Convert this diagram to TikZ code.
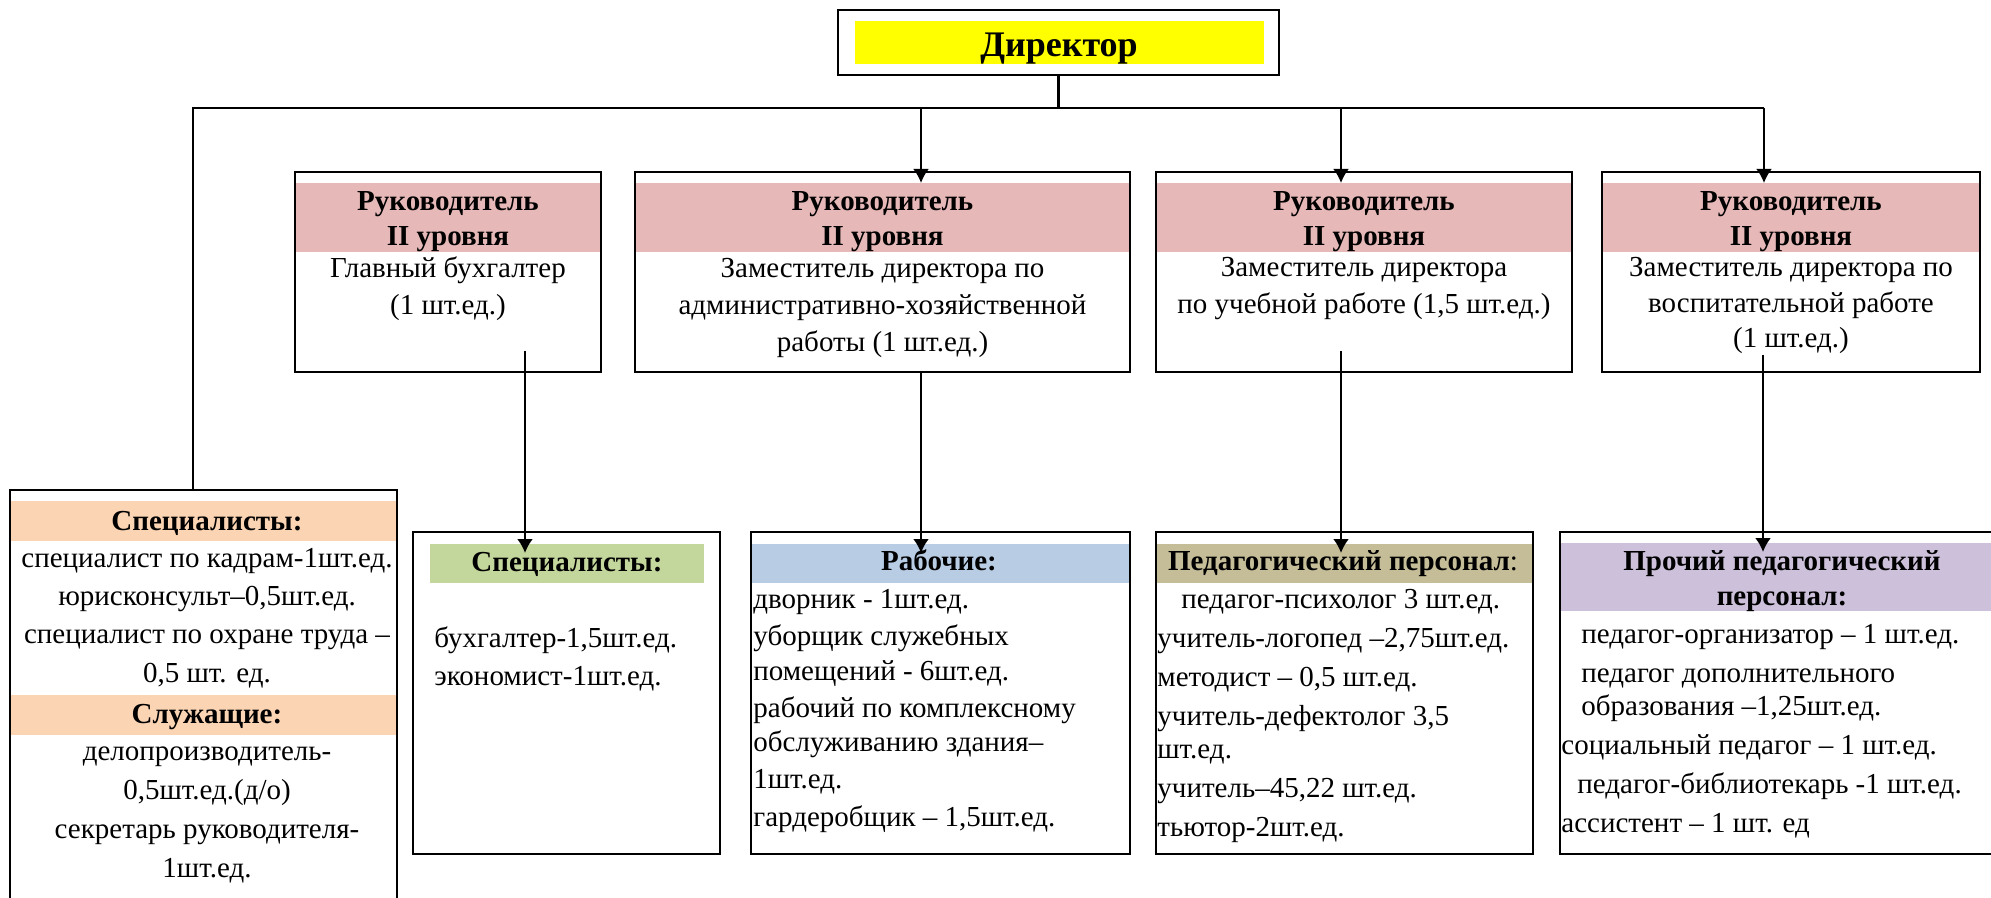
\documentclass[tikz,border=0pt]{standalone}
\usepackage{fontspec}
\setmainfont{Liberation Serif}
\usepackage{tikz}
\usetikzlibrary{arrows.meta}
\definecolor{BossYellow}{HTML}{FFFF00}
\definecolor{HeadPink}{HTML}{E6B8B7}
\definecolor{StaffPeach}{HTML}{FBD4B4}
\definecolor{SpecGreen}{HTML}{C3D69B}
\definecolor{WorkBlue}{HTML}{B8CCE4}
\definecolor{PedKhaki}{HTML}{C4BD97}
\definecolor{OtherLilac}{HTML}{CCC0DA}
\newcommand{\bodysize}[1]{\fontsize{14.5}{#1}\selectfont}

\begin{document}
\begin{tikzpicture}[x=0.5pt, y=-0.5pt,
    postbox/.style={rectangle, draw, line width=0.9pt, inner sep=0pt, outer sep=0pt},
    band/.style={rectangle, inner sep=0pt, outer sep=0pt},
    txt/.style={inner sep=0pt, anchor=base, font=\bodysize{18.5}},
    items/.style={inner sep=0pt, anchor=base west},
    link/.style={line width=1.2pt},
    arr/.style={line width=1.2pt, -{Latex[length=7pt, width=8pt]}},
    dnarr/.style={arr, shorten >=-4.5pt}]
      \useasboundingbox (0, 0) rectangle (1991, 898);

      \node (boss) [postbox] [minimum width=220.5pt, minimum height=32.5pt] at (1058.5, 42.5) {};
      \node (bossfill) [band, fill=BossYellow, minimum width=204.5pt, minimum height=21.5pt] at (1059.5, 42.5) {};
      \node (bossname) [txt, font=\fontsize{18}{22}\selectfont\bfseries] at (1059, 57) {Директор};

      \node (chief1) [postbox, minimum width=153pt, minimum height=100pt] at (448, 272) {};
      \node (pink1) [band, fill=HeadPink, minimum width=152pt, minimum height=34.5pt] at (448, 217.5) {};
      \node (rank1) [txt, font=\bodysize{17.5}\bfseries] at (448, 211) {
        \begin{tabular}[t]{@{}c@{}}
          Руководитель \\
          II уровня
        \end{tabular}
      };
      \node (post1) [txt] at (448, 278) {
        \begin{tabular}[t]{@{}c@{}}
          Главный бухгалтер \\
          (1 шт.ед.)
        \end{tabular}
      };

      \node (chief2) [postbox, minimum width=247.5pt, minimum height=100pt] at (882.5, 272) {};
      \node (pink2) [band, fill=HeadPink, minimum width=246.5pt, minimum height=34.5pt] at (882.5, 217.5) {};
      \node (rank2) [txt, font=\bodysize{17.5}\bfseries] at (882.5, 211) {
        \begin{tabular}[t]{@{}c@{}}
          Руководитель \\
          II уровня
        \end{tabular}
      };
      \node (post2) [txt] at (882.5, 278) {
        \begin{tabular}[t]{@{}c@{}}
          Заместитель директора по \\
          административно-хозяйственной \\
          работы (1 шт.ед.)
        \end{tabular}
      };

      \node (chief3) [postbox, minimum width=208pt, minimum height=100pt] at (1364, 272) {};
      \node (pink3) [band, fill=HeadPink, minimum width=207pt, minimum height=34.5pt] at (1364, 217.5) {};
      \node (rank3) [txt, font=\bodysize{17.5}\bfseries] at (1364, 211) {
        \begin{tabular}[t]{@{}c@{}}
          Руководитель \\
          II уровня
        \end{tabular}
      };
      \node (post3) [txt] at (1364, 277) {
        \begin{tabular}[t]{@{}c@{}}
          Заместитель директора \\
          по учебной работе (1,5 шт.ед.)
        \end{tabular}
      };

      \node (chief4) [postbox, minimum width=189pt, minimum height=100pt] at (1791, 272) {};
      \node (pink4) [band, fill=HeadPink, minimum width=188pt, minimum height=34.5pt] at (1791, 217.5) {};
      \node (rank4) [txt, font=\bodysize{17.5}\bfseries] at (1791, 211) {
        \begin{tabular}[t]{@{}c@{}}
          Руководитель \\
          II уровня
        \end{tabular}
      };
      \node (post4) [txt, font=\bodysize{17.75}] at (1791, 277) {
        \begin{tabular}[t]{@{}c@{}}
          Заместитель директора по \\
          воспитательной работе \\
          (1 шт.ед.)
        \end{tabular}
      };

      \node (staff) [postbox, minimum width=193.5pt, minimum height=215pt] at (203.5, 705) {};
      \node (peach1) [band, fill=StaffPeach, minimum width=192.5pt, minimum height=20pt] at (203.5, 521) {};
      \node (peach2) [band, fill=StaffPeach, minimum width=192.5pt, minimum height=20pt] at (203.5, 715) {};
      \node (stafftitle1) [txt, font=\bodysize{18.5}\bfseries] at (207, 530) {Специалисты:};
      \node (stafflist1) [txt, font=\bodysize{19.2}] at (207, 567) {
        \begin{tabular}[t]{@{}c@{}}
          специалист по кадрам-1шт.ед. \\
          юрисконсульт–0,5шт.ед. \\
          специалист по охране труда – \\
          0,5 шт. ед.
        \end{tabular}
      };
      \node (stafftitle2) [txt, font=\bodysize{18.5}\bfseries] at (207, 723) {Служащие:};
      \node (stafflist2) [txt, font=\bodysize{19.5}] at (207, 760) {
        \begin{tabular}[t]{@{}c@{}}
          делопроизводитель- \\
          0,5шт.ед.(д/о) \\
          секретарь руководителя- \\
          1шт.ед.
        \end{tabular}
      };

      \node (spec) [postbox, minimum width=153.5pt, minimum height=161pt] at (566.5, 693) {};
      \node (green) [band, fill=SpecGreen, minimum width=137pt, minimum height=19.5pt] at (567, 563.5) {};
      \node (spectitle) [txt, font=\bodysize{18.5}\bfseries] at (567, 571) {Специалисты:};
      \node (speclist) [items, font=\bodysize{19}] at (434, 647) {
        \begin{tabular}[t]{@{}l@{}}
          бухгалтер-1,5шт.ед. \\
          экономист-1шт.ед.
        \end{tabular}
      };

      \node (work) [postbox, minimum width=189.5pt, minimum height=161pt] at (940.5, 693) {};
      \node (blue) [band, fill=WorkBlue, minimum width=188.5pt, minimum height=19.5pt] at (940.5, 563.5) {};
      \node (worktitle) [txt, font=\bodysize{18.5}\bfseries] at (939, 570) {Рабочие:};
      \node (worklist) [items, font=\bodysize{18.75}] at (753, 608) {
        \begin{tabular}[t]{@{}l@{}}
          дворник - 1шт.ед. \\
          уборщик служебных \\[-1.5pt]
          помещений - 6шт.ед. \\
          рабочий по комплексному \\[-2pt]
          обслуживанию здания– \\
          1шт.ед. \\
          гардеробщик – 1,5шт.ед.
        \end{tabular}
      };

      \node (ped) [postbox, minimum width=188.5pt, minimum height=161pt] at (1344.5, 693) {};
      \node (khaki) [band, fill=PedKhaki, minimum width=187.5pt, minimum height=19.5pt] at (1344.5, 563.5) {};
      \node (pedtitle) [txt, font=\bodysize{18.5}] at (1343, 570) {\textbf{Педагогический персонал}:};
      \node (pedlist) [items, font=\bodysize{19.5}] at (1157, 608) {
        \begin{tabular}[t]{@{}l@{}}
          \hspace*{12pt}педагог-психолог 3 шт.ед. \\
          учитель-логопед –2,75шт.ед. \\
          методист – 0,5 шт.ед. \\
          учитель-дефектолог 3,5 \\[-3pt]
          шт.ед. \\
          учитель–45,22 шт.ед. \\
          тьютор-2шт.ед.
        \end{tabular}
      };

      \node (other) [postbox, minimum width=222pt, minimum height=161pt] at (1782, 693) {};
      \node (lilac) [band, fill=OtherLilac, minimum width=221pt, minimum height=34pt] at (1782, 577) {};
      \node (othertitle) [txt, font=\bodysize{17.5}\bfseries] at (1782, 570) {
        \begin{tabular}[t]{@{}c@{}}
          Прочий педагогический \\
          персонал:
        \end{tabular}
      };
      \node (otherlist) [items, font=\bodysize{19.5}] at (1561, 643) {
        \begin{tabular}[t]{@{}l@{}}
          \hspace*{10pt}педагог-организатор – 1 шт.ед. \\
          \hspace*{10pt}педагог дополнительного \\[-3pt]
          \hspace*{10pt}образования –1,25шт.ед. \\
          социальный педагог – 1 шт.ед. \\
          \hspace*{8pt}педагог-библиотекарь -1 шт.ед. \\
          ассистент – 1 шт. ед
        \end{tabular}
      };

      \coordinate (busL) at (193, 108);
      \coordinate (bus2) at (921, 108);
      \coordinate (bus3) at (1341, 108);
      \coordinate (busR) at (1764, 108);
      \coordinate (drop1) at (525, 351);
      \coordinate (drop3) at (1341, 351);
      \coordinate (drop4) at (1763, 355);

      \draw[link] (boss.south) -- (boss.south |- busL);
      \draw[link] (busL |- staff.north) -- (busL) -- (busR);
      \draw[arr] (bus2) -- (bus2 |- pink2.north);
      \draw[arr] (bus3) -- (bus3 |- pink3.north);
      \draw[arr] (busR) -- (busR |- pink4.north);

      \draw[dnarr] (drop1) -- (drop1 |- green.north);
      \draw[dnarr] (bus2 |- chief2.south) -- (bus2 |- blue.north);
      \draw[dnarr] (drop3) -- (drop3 |- khaki.north);
      \draw[dnarr] (drop4) -- (drop4 |- lilac.north);
    \end{tikzpicture}
\end{document}
